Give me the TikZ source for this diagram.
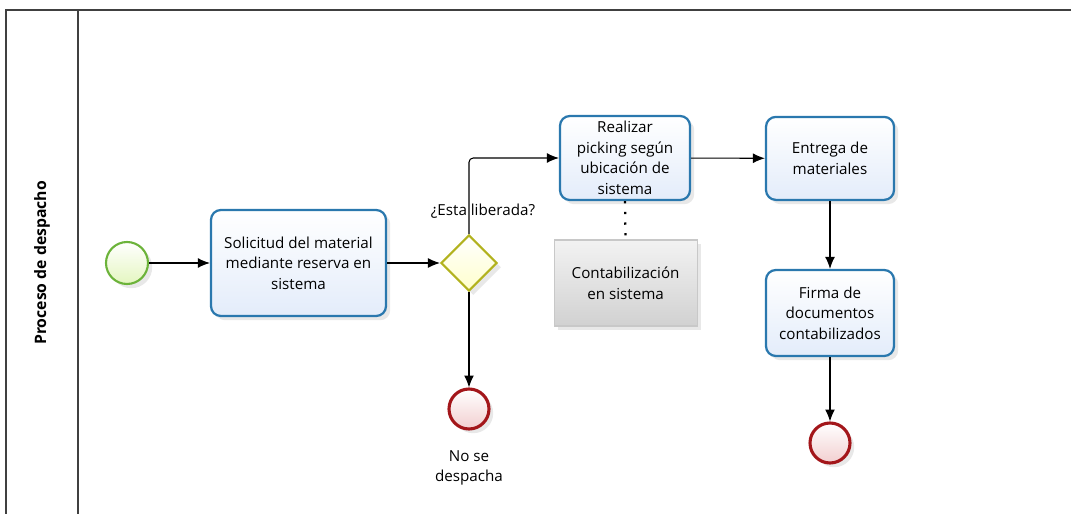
\documentclass[tikz,border=0pt]{standalone}
\usepackage{fontspec}
\setmainfont{Open Sans}
\usetikzlibrary{arrows.meta}
\usetikzlibrary{shapes.geometric}
\usetikzlibrary{shadows}

\definecolor{taskline}{HTML}{2A78AE}
\definecolor{taskfill}{HTML}{E3ECFA}
\definecolor{startline}{HTML}{6CB33A}
\definecolor{startfill}{HTML}{E4F6C0}
\definecolor{endline}{HTML}{A3161A}
\definecolor{endfill}{HTML}{F2CFD0}
\definecolor{gateline}{HTML}{B2B21E}
\definecolor{gatefill}{HTML}{FFFFCC}
\definecolor{noteline}{HTML}{C8C8C8}

\begin{document}
\begin{tikzpicture}[
  font=\fontsize{10.8}{14.6}\selectfont,
  shade/.style={drop shadow={opacity=0.18,shadow xshift=3pt,shadow yshift=-3pt}},
  task/.style={shade,draw=taskline,line width=1.6pt,rounded corners=7pt,
    top color=white,bottom color=taskfill,align=center,inner sep=0pt},
  startev/.style={shade,circle,draw=startline,line width=1.5pt,minimum size=1.05cm,
    top color=white,bottom color=startfill,inner sep=0pt},
  endev/.style={shade,circle,draw=endline,line width=2.2pt,minimum size=1.0cm,
    top color=white,bottom color=endfill,inner sep=0pt},
  gateway/.style={shade,diamond,draw=gateline,line width=1.5pt,minimum size=1.4cm,
    top color=white,bottom color=gatefill,inner sep=0pt},
  note/.style={shade,draw=noteline,line width=0.8pt,top color=white!95!black,
    bottom color=white!82!black,align=center,inner sep=0pt},
  flow/.style={-{Latex[length=8.5pt,width=7pt]},line width=0.75pt}]
\useasboundingbox (0,0) rectangle (26.775,-12.85);
% pool and lane
\draw[line width=1pt,black!75] (26.775,-0.25) -- (0.15,-0.25) -- (0.15,-12.85);
\draw[line width=1pt,black!75] (1.95,-0.25) -- (1.95,-12.85);
\node (lane) [rotate=90,font=\fontsize{11.2}{13}\bfseries\selectfont] at (1.05,-6.575) {Proceso de despacho};
% events, gateway and tasks
\node (start) [startev] at (3.175,-6.575) {};
\node (solicitud) [task,minimum width=4.375cm,minimum height=2.65cm] at (7.4625,-6.575)
  {Solicitud del material\\mediante reserva en\\sistema};
\node (gw) [gateway] at (11.725,-6.575) {};
\node (gwlabel) at (12.075,-5.275) {¿Esta liberada?};
\node (picking) [task,minimum width=3.25cm,minimum height=2.1cm] at (15.625,-3.95)
  {Realizar\\picking según\\ubicación de\\sistema};
\node (contab) [note,minimum width=3.575cm,minimum height=2.15cm] at (15.64,-7.075)
  {Contabilización\\en sistema};
\node (entrega) [task,minimum width=3.2cm,minimum height=2.075cm] at (20.75,-3.96)
  {Entrega de\\materiales};
\node (firma) [task,minimum width=3.2cm,minimum height=2.15cm] at (20.75,-7.825)
  {Firma de\\documentos\\contabilizados};
\node (noend) [endev] at (11.725,-10.225) {};
\node (nolabel) [align=center] at (11.725,-11.7) {No se\\despacha};
\node (finish) [endev] at (20.75,-11.075) {};
% flows
\draw[flow] (start) -- (solicitud);
\draw[flow] (solicitud) -- (gw);
\draw[flow,rounded corners=3pt] (gw.north) |- (picking.west);
\draw[flow] (gw.south) -- (noend);
\draw[flow] (picking) -- (entrega);
\draw[flow] (entrega) -- (firma);
\draw[flow] (firma) -- (finish);
\draw[line width=1.6pt,dash pattern=on 1.6pt off 6pt] (picking.south) -- (contab.north);
\end{tikzpicture}
\end{document}
